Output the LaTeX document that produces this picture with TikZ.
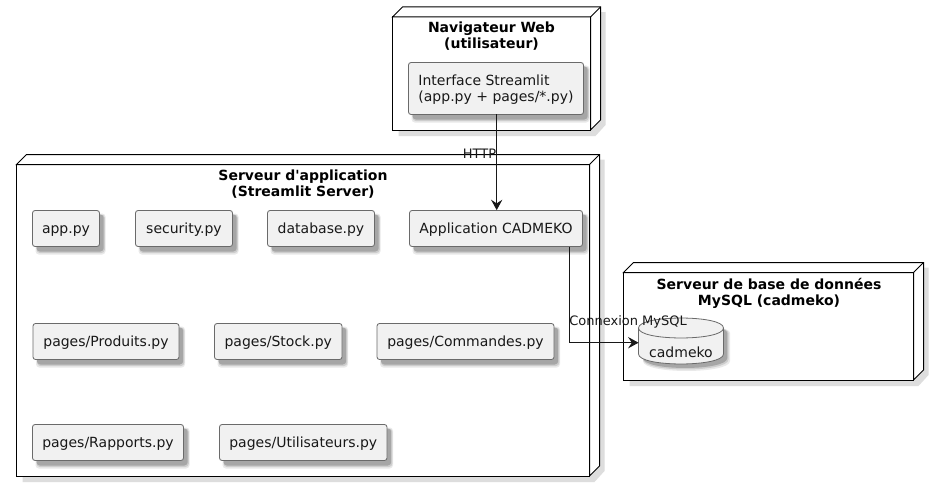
\documentclass[tikz,border=0pt]{standalone}
\usepackage{fontspec}
\setmainfont{DejaVu Sans}
\newfontfamily\titlefamily{DejaVu Sans}
\usetikzlibrary{arrows.meta,calc}
\definecolor{boxfill}{HTML}{F1F1F1}
\definecolor{boxline}{HTML}{6A6A6A}
\definecolor{inkline}{HTML}{181818}
\definecolor{shadowc}{HTML}{DDDDDD}
\definecolor{shadowa}{HTML}{E9E9E9}
\definecolor{shadowm}{HTML}{CDCDCD}
\definecolor{shadowb}{HTML}{A6A6A6}
\newcommand{\linestrut}{\rule[-2.3pt]{0pt}{12.8pt}}
\tikzset{
  x=0.75pt,y=-0.75pt,
  artifact/.style={draw=boxline,fill=boxfill,line width=0.6pt,rounded corners=1.9pt,inner sep=0pt,align=left,
    font=\fontsize{10.5}{12.4}\selectfont,text=inkline},
  shadowlayer/.style={rounded corners=2.5pt},
  nodefront/.style={draw=black,fill=white,line width=0.75pt,inner sep=0pt},
  nodeedge/.style={draw=black,line width=0.75pt,line join=miter},
  nodetitle/.style={font=\titlefamily\fontsize{10.5}{12.1}\selectfont\bfseries,align=center,inner sep=0pt,text=black},
  link/.style={draw=inkline,line width=0.75pt,-{Stealth[length=7.8pt,width=8.5pt,inset=2.8pt]}},
  linklabel/.style={font=\fontsize{9.75}{12}\selectfont,inner sep=0pt,text=inkline},
}
% name, x1,y1,x2,y2, text
\newcommand{\artbox}[6]{%
  \fill[shadowlayer,shadowa] (#2+3,#3+3) rectangle (#4+6,#5+8);
  \fill[shadowlayer,shadowm] (#2+4,#3+4) rectangle (#4+5.3,#5+6.5);
  \fill[shadowlayer,shadowb] (#2+4,#3+4) rectangle (#4+4.2,#5+5);
  \node[artifact,minimum width={(#4-#2)*0.75pt},minimum height={(#5-#3)*0.75pt}] (#1) at ({(#2+#4)/2},{(#3+#5)/2}) {#6};
}
% name, x1,y1,x2,y2 (front face)
\newcommand{\cubebox}[5]{%
  \fill[shadowc] (#2+6,#3) -- (#2+10,#3) -- (#4+15,#3-5) -- (#4+15,#5-5) -- (#4+5,#5+6) -- (#2+6,#5+6) -- cycle;
  \node[nodefront,minimum width={(#4-#2)*0.75pt},minimum height={(#5-#3)*0.75pt}] (#1) at ({(#2+#4)/2},{(#3+#5)/2}) {};
  \draw[nodeedge,fill=white] (#2,#3) -- (#2+10,#3-10) -- (#4+10,#3-10) -- (#4+10,#5-10) -- (#4,#5) -- (#4,#3) -- cycle;
  \draw[nodeedge] (#4,#3) -- (#4+10,#3-10);
}
% colour, offset right, offset bottom
\newcommand{\cylshadow}[3]{%
  \fill[#1] (643,333) .. controls (643,322) and (723.5+#2,322) .. (723.5+#2,333)
    -- (723.5+#2,354+#3) .. controls (723.5+#2,367.3+#3) and (643,367.3+#3) .. (643,354+#3) -- cycle;
}
\begin{document}
\begin{tikzpicture}
\useasboundingbox (0,0) rectangle (939,492);
\fill[white] (0,0) rectangle (939,492);

% outer nodes
\cubebox{nav}{392.5}{17}{590.5}{130}
\node[nodetitle] (navtitle) at (491.5,36) {Navigateur Web\\(utilisateur)};
\cubebox{srv}{16.5}{164.5}{589.5}{476}
\node[nodetitle] (srvtitle) at (303,184.5) {Serveur d'application\\(Streamlit Server)};
\cubebox{dbs}{623.5}{272.5}{913.5}{380}
\node[nodetitle] (dbstitle) at (769,293) {Serveur de base de données\\MySQL (cadmeko)};

% artifacts
\artbox{iface}{408.5}{62.5}{583.5}{114.5}{\rule{0pt}{11pt}Interface Streamlit\\(app.py + pages/*.py)\rule[-3.4pt]{0pt}{1pt}}
\artbox{appl}{409.5}{210.5}{582.5}{246.5}{\linestrut Application CADMEKO}
\artbox{apppy}{32.5}{210.5}{99.5}{246.5}{\linestrut app.py}
\artbox{secpy}{135.5}{210.5}{232.5}{246.5}{\linestrut security.py}
\artbox{dbpy}{267.5}{210.5}{374.5}{246.5}{\linestrut database.py}
\artbox{prod}{33}{323.5}{179}{359.5}{\linestrut pages/Produits.py}
\artbox{stock}{214.5}{323.5}{342}{359.5}{\linestrut pages/Stock.py}
\artbox{cmd}{377}{323.5}{554}{359.5}{\linestrut pages/Commandes.py}
\artbox{rapp}{32.5}{424.5}{183.5}{460.5}{\linestrut pages/Rapports.py}
\artbox{util}{219.5}{424.5}{387}{460.5}{\linestrut pages/Utilisateurs.py}

% database cylinder
\cylshadow{shadowa}{6.5}{7}
\cylshadow{shadowm}{5}{5.5}
\cylshadow{shadowb}{3.8}{4}
\draw[draw=boxline,fill=boxfill,line width=0.6pt] (638.5,328) .. controls (638.5,314.7) and (723.5,314.7) .. (723.5,328)
  -- (723.5,354) .. controls (723.5,367.3) and (638.5,367.3) .. (638.5,354) -- cycle;
\draw[draw=boxline,line width=0.6pt] (638.5,328) .. controls (638.5,341.3) and (723.5,341.3) .. (723.5,328);
\node[inner sep=0pt,font=\fontsize{10.5}{12.2}\selectfont,text=inkline] (dbcyl) at (681,352) {cadmeko};
\coordinate (dbentry) at (638.5,342.7);

% connectors
\coordinate (ifaceout) at (496.7,114.5);
\coordinate (elbow) at (569,342.7);
\draw[link] (ifaceout) -- (ifaceout |- appl.north);
\draw[link] (appl.south -| elbow) -- (elbow) -- (dbentry);

% connector labels
\node[linklabel,anchor=east] (httplabel) at (496.5,153.5) {HTTP};
\node[linklabel,anchor=west] (mysqllabel) at (569,321.5) {Connexion MySQL};
\end{tikzpicture}
\end{document}
